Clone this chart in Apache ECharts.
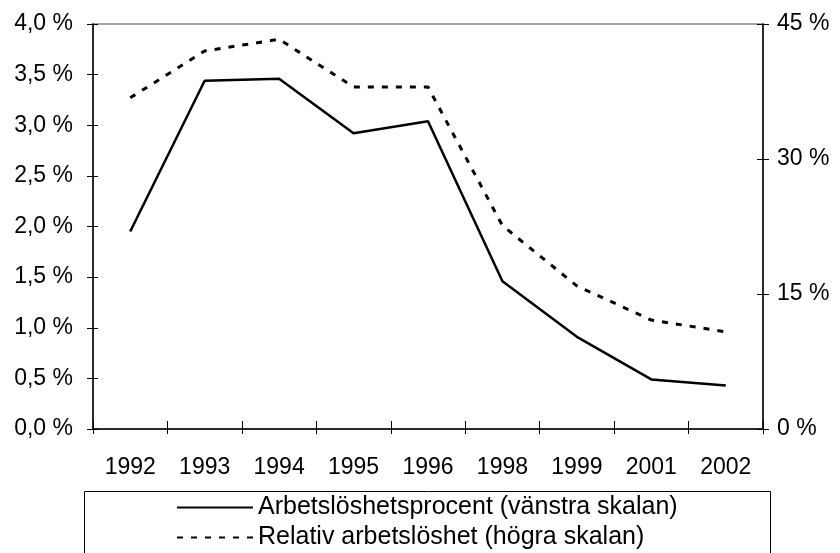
<!DOCTYPE html>
<html>
<head>
<meta charset="utf-8">
<script src="https://cdn.jsdelivr.net/npm/echarts@6/dist/echarts.min.js"></script>
<style>
html,body{margin:0;padding:0;background:#fff;}
#c{width:840px;height:553px;}
</style>
</head>
<body>
<div id="c"></div>
<script>
const years = ['1992','1993','1994','1995','1996','1998','1999','2001','2002'];
const arbetsloshetsprocent = [1.95, 3.44, 3.46, 2.92, 3.04, 1.46, 0.91, 0.49, 0.43];
const relativArbetsloshet = [36.8, 42.0, 43.3, 38.0, 38.0, 22.6, 15.9, 12.1, 10.8];
const leftTicks = {min: 0, max: 4, interval: 0.5};
const rightTicks = {min: 0, max: 45, interval: 15};
const seriesNames = ['Arbetslöshetsprocent (vänstra skalan)', 'Relativ arbetslöshet (högra skalan)'];

const FONT = 'Liberation Sans, Arial, sans-serif';
const FS = 23;
const chart = echarts.init(document.getElementById('c'), null, {renderer: 'canvas'});
const lineAxis = {show: true, lineStyle: {color: '#000', width: 1.5}};
const legendBase = {
  orient: 'horizontal', left: 176, padding: 0,
  itemWidth: 76, itemHeight: 14,
  itemStyle: {opacity: 0},
  textStyle: {color: '#000', fontFamily: FONT, fontSize: 25}
};
chart.setOption({
  animation: false,
  backgroundColor: '#fff',
  grid: {left: 93, right: 77, top: 24, bottom: 124, show: true, borderColor: '#888', borderWidth: 1.5},
  xAxis: [{
    type: 'category', data: years, boundaryGap: true,
    axisLine: lineAxis,
    axisTick: {show: true, inside: false, length: 5, lineStyle: {color: '#000'}},
    axisLabel: {color: '#000', fontFamily: FONT, fontSize: FS, margin: 27},
    splitLine: {show: false}
  }, {
    type: 'category', data: years, boundaryGap: true, position: 'bottom',
    axisLine: {show: false},
    axisTick: {show: true, inside: true, length: 8, lineStyle: {color: '#000'}},
    axisLabel: {show: false}, splitLine: {show: false}
  }],
  yAxis: [{
    type: 'value', position: 'left', ...leftTicks,
    axisLine: lineAxis,
    axisTick: {show: true, inside: false, length: 6, lineStyle: {color: '#000'}},
    axisLabel: {color: '#000', fontFamily: FONT, fontSize: FS, margin: 20,
      formatter: v => v.toFixed(1).replace('.', ',') + ' %'},
    splitLine: {show: false}
  }, {
    type: 'value', position: 'right', ...rightTicks,
    axisLine: lineAxis,
    axisTick: {show: true, inside: false, length: 6, lineStyle: {color: '#000'}},
    axisLabel: {color: '#000', fontFamily: FONT, fontSize: FS, margin: 14,
      formatter: v => v + ' %'},
    splitLine: {show: false}
  }, {
    type: 'value', position: 'left', ...leftTicks,
    axisLine: {show: false},
    axisTick: {show: true, inside: true, length: 5, lineStyle: {color: '#000'}},
    axisLabel: {show: false}, splitLine: {show: false}
  }, {
    type: 'value', position: 'right', ...rightTicks,
    axisLine: {show: false},
    axisTick: {show: true, inside: true, length: 6, lineStyle: {color: '#000'}},
    axisLabel: {show: false}, splitLine: {show: false}
  }],
  legend: [
    Object.assign({}, legendBase, {top: 495, data: [seriesNames[0]]}),
    Object.assign({}, legendBase, {top: 525, data: [seriesNames[1]]})
  ],
  graphic: [{
    type: 'rect', left: 82, top: 489, z: -1,
    shape: {width: 686, height: 80},
    style: {fill: 'none', stroke: '#000', lineWidth: 1}
  }],
  series: [{
    name: seriesNames[0], type: 'line', xAxisIndex: 0, yAxisIndex: 0,
    data: arbetsloshetsprocent, symbol: 'none', showSymbol: false,
    lineStyle: {color: '#000', width: 2.5, type: 'solid'},
    itemStyle: {color: '#000'}
  }, {
    name: seriesNames[1], type: 'line', xAxisIndex: 0, yAxisIndex: 1,
    data: relativArbetsloshet, symbol: 'none', showSymbol: false,
    lineStyle: {color: '#000', width: 3, type: [6, 8]},
    itemStyle: {color: '#000'}
  }]
});
</script>
</body>
</html>
